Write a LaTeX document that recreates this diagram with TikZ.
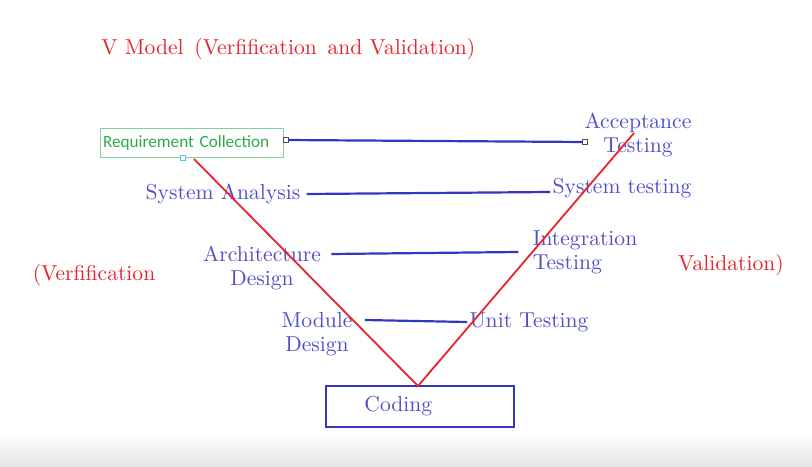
\documentclass[tikz,border=0pt]{standalone}
\usepackage{fontspec}
\newfontfamily\calfont{Carlito}
\definecolor{vred}{HTML}{E8232B}
\definecolor{vblue}{HTML}{4F4FC8}
\definecolor{vline}{HTML}{3535C0}
\definecolor{rgreen}{HTML}{2DAA4C}
\definecolor{rgborder}{HTML}{7FD49A}
\begin{document}
\begin{tikzpicture}[x=0.5pt, y=-0.5pt, font=\fontsize{10.8}{12}\selectfont,
	bluetext/.style={text=vblue, inner sep=1pt},
	redtext/.style={text=vred, inner sep=1pt},
	bline/.style={vline, line width=1.1pt},
	vleg/.style={vred, line width=0.9pt},
	tinybox/.style={draw=black!70, fill=white, inner sep=0pt, minimum size=2.5pt, line width=0.4pt}]
	\useasboundingbox (0,0) rectangle (812,466);
	\shade[top color=white, bottom color=black!10] (0,432) rectangle (812,466);
	\node[redtext, anchor=west] (title) at (99,49) {V Model\ \,(Verfification\ \,and Validation)};
	\node[draw=rgborder, text=rgreen, font=\calfont\fontsize{8.6}{10}\selectfont, minimum width=91.5pt, minimum height=14.5pt, inner xsep=1.5pt, inner ysep=0pt, text width=88.5pt, align=left] (req) at (191.5,142.5) {Requirement Collection};
	\node[tinybox] (reqend) at (286,140) {};
	\node[tinybox, draw=cyan!70] (reqfoot) at (183,158) {};
	\node[tinybox] (accend) at (585,142) {};
	\node[bluetext, align=center] (acc) at (638,135) {Acceptance\\Testing};
	\node[bluetext] (sysan) at (223,194) {System Analysis};
	\node[bluetext] (systest) at (622,188) {System testing};
	\node[bluetext, align=center] (arch) at (262,268) {Architecture\\Design};
	\node[bluetext, align=left] (integ) at (585,252) {Integration\\Testing};
	\node[bluetext, align=center] (modd) at (317,334) {Module\\Design};
	\node[bluetext] (unit) at (529,322) {Unit Testing};
	\node[redtext] (verif) at (94,275) {(Verfification};
	\node[redtext] (valid) at (731,265) {Validation)};
	\node[draw=vline, line width=1pt, minimum width=94pt, minimum height=20.5pt, inner sep=0pt] (coding) at (420,406.5) {};
	\node[bluetext, anchor=west] (codtext) at ([xshift=18.5pt]coding.west) {Coding};
	\coordinate (vleft) at (194,159);
	\coordinate (vtip) at (418,386);
	\coordinate (vright) at (634,133);
	\draw[bline] (reqend) -- (accend);
	\draw[bline] ([xshift=2pt]sysan.east) -- ([yshift=-2pt]systest.west);
	\draw[bline] ([xshift=4pt,yshift=7pt]arch.east) -- ([xshift=-6pt]integ.west);
	\draw[bline] ([xshift=5pt,yshift=7pt]modd.east) -- (unit.west);
	\draw[vleg] (vleft) -- (vtip) -- (vright);
\end{tikzpicture}
\end{document}
